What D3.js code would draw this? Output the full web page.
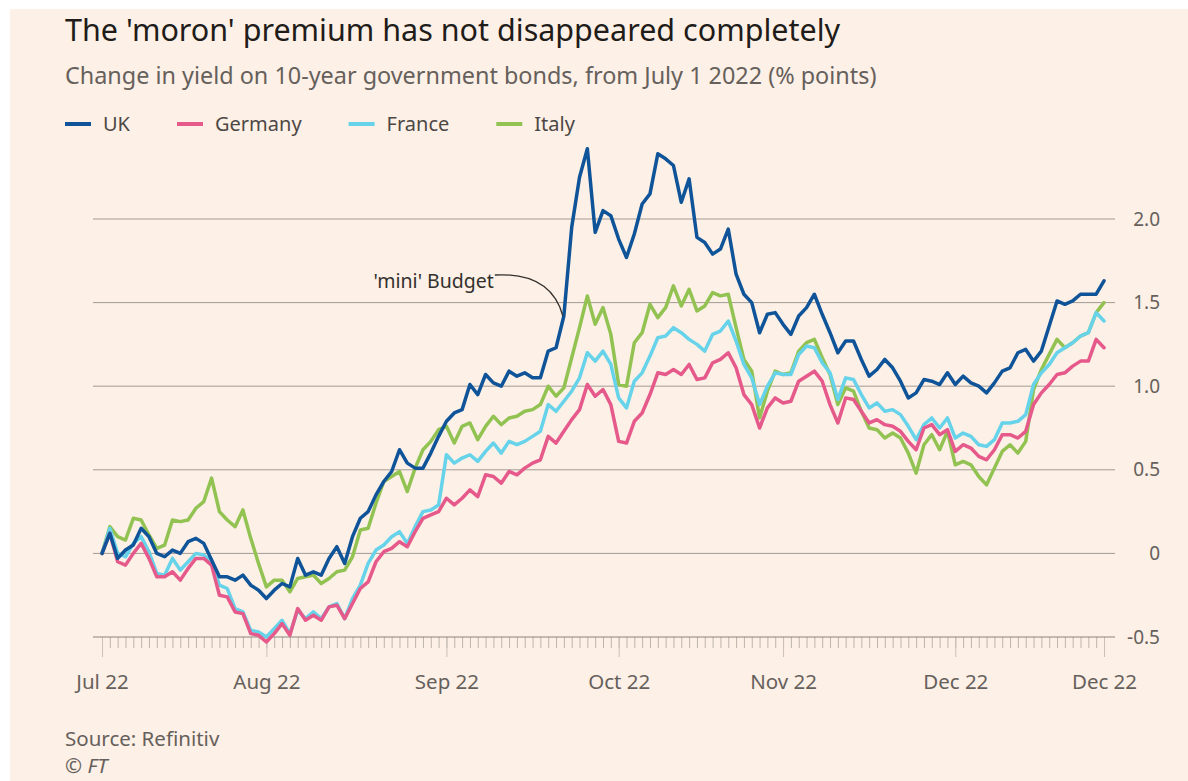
<!DOCTYPE html>
<html>
<head>
<meta charset="utf-8">
<script src="https://cdn.jsdelivr.net/npm/d3@7"></script>
<style>
  body { margin: 0; background: #fff; }
  svg { display: block; font-family: "Noto Sans", sans-serif; }
</style>
</head>
<body>
<div id="chart-area"></div>
<script>
// Change in 10-year yield since July 1 2022, one value per trading day (Jul 1 - Dec 28)
var ukData = [
  0.00, 0.12, -0.03, 0.02, 0.05, 0.15, 0.10, 0.00, -0.02, 0.02,
  0.00, 0.07, 0.09, 0.06, -0.04, -0.14, -0.14, -0.16, -0.13, -0.19,
  -0.22, -0.27, -0.22, -0.18, -0.20, -0.03, -0.13, -0.11, -0.13, -0.03,
  0.04, -0.06, 0.10, 0.21, 0.25, 0.35, 0.43, 0.49, 0.62, 0.54,
  0.51, 0.51, 0.60, 0.70, 0.79, 0.84, 0.86, 1.01, 0.95, 1.07,
  1.02, 1.00, 1.09, 1.06, 1.08, 1.05, 1.05, 1.21, 1.23, 1.42,
  1.95, 2.25, 2.42, 1.92, 2.05, 2.02, 1.88, 1.77, 1.91, 2.09,
  2.15, 2.39, 2.36, 2.32, 2.10, 2.24, 1.89, 1.86, 1.79, 1.82,
  1.94, 1.67, 1.55, 1.50, 1.32, 1.43, 1.44, 1.37, 1.31, 1.42,
  1.47, 1.55, 1.43, 1.32, 1.20, 1.27, 1.27, 1.16, 1.06, 1.10,
  1.16, 1.11, 1.03, 0.93, 0.96, 1.04, 1.03, 1.01, 1.08, 1.01,
  1.06, 1.02, 1.00, 0.96, 1.02, 1.09, 1.11, 1.20, 1.22, 1.15,
  1.21, 1.36, 1.51, 1.49, 1.51, 1.55, 1.55, 1.55, 1.63
];
var germanyData = [
  0.00, 0.12, -0.05, -0.07, 0.00, 0.06, -0.03, -0.14, -0.14, -0.11,
  -0.16, -0.09, -0.03, -0.03, -0.07, -0.25, -0.26, -0.35, -0.36, -0.48,
  -0.49, -0.53, -0.48, -0.42, -0.49, -0.33, -0.40, -0.37, -0.40, -0.32,
  -0.31, -0.39, -0.30, -0.21, -0.17, -0.05, 0.01, 0.03, 0.07, 0.04,
  0.13, 0.21, 0.23, 0.25, 0.33, 0.29, 0.33, 0.38, 0.34, 0.47,
  0.46, 0.42, 0.49, 0.47, 0.51, 0.54, 0.56, 0.70, 0.66, 0.73,
  0.80, 0.86, 1.01, 0.94, 0.98, 0.89, 0.67, 0.66, 0.79, 0.84,
  0.95, 1.08, 1.07, 1.10, 1.07, 1.13, 1.04, 1.05, 1.14, 1.16,
  1.20, 1.11, 0.95, 0.89, 0.75, 0.87, 0.93, 0.90, 0.91, 1.03,
  1.06, 1.09, 1.03, 0.89, 0.78, 0.93, 0.92, 0.85, 0.78, 0.80,
  0.77, 0.76, 0.73, 0.67, 0.62, 0.75, 0.77, 0.71, 0.74, 0.61,
  0.65, 0.63, 0.58, 0.56, 0.62, 0.71, 0.71, 0.69, 0.73, 0.89,
  0.96, 1.01, 1.07, 1.08, 1.12, 1.15, 1.15, 1.28, 1.23
];
var franceData = [
  0.00, 0.15, 0.00, -0.02, 0.06, 0.10, 0.01, -0.12, -0.13, -0.03,
  -0.10, -0.05, 0.00, -0.01, -0.05, -0.19, -0.21, -0.33, -0.35, -0.46,
  -0.47, -0.50, -0.45, -0.40, -0.48, -0.34, -0.39, -0.35, -0.39, -0.32,
  -0.30, -0.39, -0.27, -0.19, -0.06, 0.02, 0.05, 0.10, 0.13, 0.06,
  0.16, 0.25, 0.26, 0.29, 0.59, 0.54, 0.57, 0.59, 0.55, 0.61,
  0.66, 0.60, 0.67, 0.65, 0.67, 0.70, 0.73, 0.89, 0.85, 0.91,
  0.97, 1.05, 1.20, 1.15, 1.21, 1.13, 0.93, 0.87, 1.03, 1.08,
  1.18, 1.29, 1.30, 1.35, 1.32, 1.28, 1.25, 1.21, 1.31, 1.33,
  1.39, 1.27, 1.13, 1.05, 0.89, 1.00, 1.08, 1.07, 1.07, 1.19,
  1.24, 1.23, 1.14, 1.08, 0.92, 1.05, 1.04, 0.95, 0.87, 0.90,
  0.85, 0.86, 0.83, 0.76, 0.68, 0.77, 0.81, 0.75, 0.81, 0.69,
  0.72, 0.70, 0.65, 0.64, 0.68, 0.78, 0.78, 0.79, 0.83, 1.01,
  1.08, 1.13, 1.20, 1.23, 1.26, 1.30, 1.32, 1.44, 1.39
];
var italyData = [
  0.00, 0.16, 0.10, 0.08, 0.21, 0.20, 0.11, 0.03, 0.05, 0.20,
  0.19, 0.20, 0.27, 0.31, 0.45, 0.25, 0.20, 0.16, 0.26, 0.09,
  -0.06, -0.20, -0.16, -0.16, -0.23, -0.15, -0.14, -0.13, -0.18, -0.15,
  -0.11, -0.10, -0.02, 0.14, 0.15, 0.30, 0.43, 0.46, 0.49, 0.37,
  0.51, 0.62, 0.67, 0.74, 0.76, 0.66, 0.76, 0.78, 0.68, 0.76,
  0.82, 0.77, 0.81, 0.82, 0.85, 0.86, 0.89, 1.00, 0.94, 0.99,
  1.17, 1.35, 1.54, 1.37, 1.47, 1.31, 1.01, 1.00, 1.26, 1.32,
  1.49, 1.41, 1.47, 1.60, 1.48, 1.58, 1.45, 1.48, 1.56, 1.54,
  1.55, 1.35, 1.16, 1.09, 0.81, 0.97, 1.09, 1.07, 1.08, 1.21,
  1.26, 1.28, 1.17, 1.07, 0.89, 0.99, 0.97, 0.85, 0.75, 0.74,
  0.69, 0.72, 0.69, 0.60, 0.48, 0.65, 0.71, 0.62, 0.73, 0.53,
  0.55, 0.53, 0.46, 0.41, 0.51, 0.61, 0.65, 0.60, 0.67, 0.98,
  1.10, 1.19, 1.28, 1.23, 1.26, 1.30, 1.32, 1.44, 1.50
];

var seriesNames = ["UK", "Germany", "France", "Italy"];
var seriesColors = ["#0f5499", "#e5598b", "#66d3ea", "#92c352"];
var yTicks = [-0.5, 0, 0.5, 1.0, 1.5, 2.0];
var annotationText = "'mini' Budget";
var annotationIndex = 59;

var width = 1188;
var height = 781;

// trading days (Mon-Fri) from July 1 to December 28 2022
var dates = [];
for (var d = new Date(2022, 6, 1); d <= new Date(2022, 11, 28); d.setDate(d.getDate() + 1)) {
    if (d.getDay() !== 0 && d.getDay() !== 6) dates.push(new Date(d));
}

var svg = d3.select("#chart-area")
    .append("svg")
    .attr("width", width)
    .attr("height", height);

svg.append("rect")
    .attr("x", 10).attr("y", 9)
    .attr("width", width - 10).attr("height", height - 9)
    .attr("fill", "#fdf0e6");

// Titles
svg.append("text")
    .attr("x", 65).attr("y", 41)
    .attr("font-size", "30.5px")
    .attr("fill", "#1f1c1a")
    .text("The 'moron' premium has not disappeared completely");

svg.append("text")
    .attr("x", 65).attr("y", 84)
    .attr("font-size", "23.4px")
    .attr("fill", "#66605c")
    .text("Change in yield on 10-year government bonds, from July 1 2022 (% points)");

// Legend
var lx = 65;
seriesNames.forEach(function(name, i) {
    svg.append("line")
        .attr("x1", lx).attr("x2", lx + 26)
        .attr("y1", 124).attr("y2", 124)
        .attr("stroke", seriesColors[i])
        .attr("stroke-width", 4);
    var t = svg.append("text")
        .attr("x", lx + 38).attr("y", 131)
        .attr("font-size", "20px")
        .attr("fill", "#4d4845")
        .text(name);
    lx = lx + 38 + t.node().getComputedTextLength() + 47;
});

// Scales
var x = d3.scaleLinear()
    .domain([0, dates.length - 1])
    .range([102, 1104]);

var y = d3.scaleLinear()
    .domain([-0.5, 2])
    .range([637, 219]);

// Grid
svg.append("g").selectAll("line")
    .data(yTicks.filter(function(v) { return v > -0.5; }))
    .enter().append("line")
    .attr("x1", 93).attr("x2", 1115)
    .attr("y1", function(v) { return y(v); })
    .attr("y2", function(v) { return y(v); })
    .attr("stroke", "#a39c96")
    .attr("stroke-width", 1);

svg.append("g").selectAll("text")
    .data(yTicks)
    .enter().append("text")
    .attr("x", 1160)
    .attr("y", function(v) { return y(v); })
    .attr("dy", "0.35em")
    .attr("text-anchor", "end")
    .attr("font-size", "19px")
    .attr("fill", "#66605c")
    .text(function(v) { return v === 0 ? "0" : v.toFixed(1); });

// X axis: a tick per trading day, longer ones at month starts
var monthIdx = [];
dates.forEach(function(dt, i) {
    if (i === 0 || dt.getMonth() !== dates[i - 1].getMonth()) monthIdx.push(i);
});
monthIdx.push(dates.length - 1);

var dayAxis = svg.append("g")
    .attr("transform", "translate(0," + y(-0.5) + ")")
    .call(d3.axisBottom(x).tickValues(d3.range(dates.length)).tickSize(11).tickFormat(""));
dayAxis.select(".domain").remove();
dayAxis.selectAll("line").attr("stroke", "#bdb5ae");

var monthAxis = svg.append("g")
    .attr("transform", "translate(0," + y(-0.5) + ")")
    .call(d3.axisBottom(x)
        .tickValues(monthIdx)
        .tickSize(20)
        .tickPadding(17)
        .tickFormat(function(i) { return d3.timeFormat("%b %y")(dates[i]); }));
monthAxis.select(".domain").remove();
monthAxis.selectAll("line").attr("stroke", "#c9c1ba");
monthAxis.selectAll("text")
    .attr("font-size", "20.5px")
    .attr("font-family", "Noto Sans, sans-serif")
    .attr("fill", "#66605c");

svg.append("line")
    .attr("x1", 93).attr("x2", 1115)
    .attr("y1", y(-0.5)).attr("y2", y(-0.5))
    .attr("stroke", "#8a837e")
    .attr("stroke-width", 1.2);

// Lines
var line = d3.line()
    .x(function(d, i) { return x(i); })
    .y(function(d) { return y(d); });

var allSeries = [ukData, germanyData, franceData, italyData];
[3, 2, 1, 0].forEach(function(k) {
    svg.append("path")
        .datum(allSeries[k])
        .attr("fill", "none")
        .attr("stroke", seriesColors[k])
        .attr("stroke-width", 3.5)
        .attr("stroke-linejoin", "round")
        .attr("stroke-linecap", "round")
        .attr("d", line);
});

// 'mini' Budget annotation
var ax = x(annotationIndex) - 1;
var ay = y(ukData[annotationIndex]);
svg.append("path")
    .attr("d", "M" + (ax - 68) + "," + (ay - 41) +
        " Q" + (ax - 12) + "," + (ay - 44) + " " + ax + "," + ay)
    .attr("fill", "none")
    .attr("stroke", "#33302e")
    .attr("stroke-width", 1.3);

svg.append("text")
    .attr("x", ax - 69).attr("y", ay - 28)
    .attr("text-anchor", "end")
    .attr("font-size", "19.5px")
    .attr("fill", "#33302e")
    .text(annotationText);

// Source
svg.append("text")
    .attr("x", 65).attr("y", 746)
    .attr("font-size", "20.5px")
    .attr("fill", "#66605c")
    .text("Source: Refinitiv");

svg.append("text")
    .attr("x", 65).attr("y", 773)
    .attr("font-size", "20.5px")
    .attr("font-style", "italic")
    .attr("fill", "#66605c")
    .text("© FT");
</script>
</body>
</html>
